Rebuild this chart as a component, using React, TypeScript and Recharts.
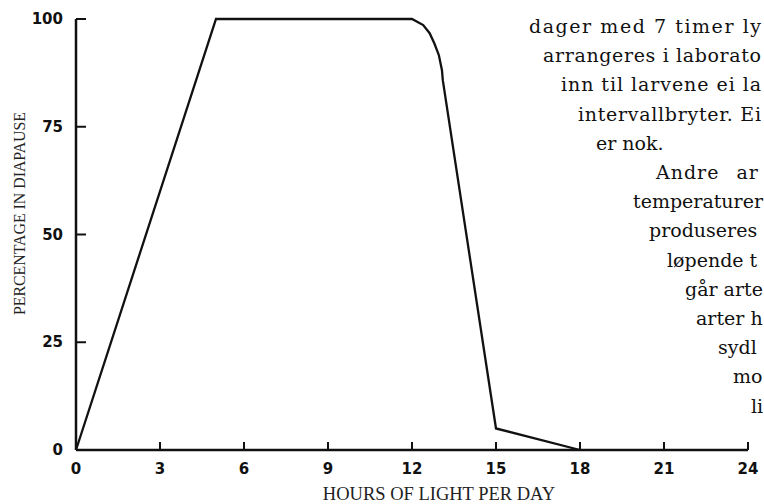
import { LineChart, Line, XAxis, YAxis } from 'recharts';

// hours of light per day vs. percentage in diapause
const hours = [0, 5, 12, 12.4, 12.63, 12.8, 12.96, 13.07, 13.1, 15, 18];
const diapause = [0, 100, 100, 98.6, 96.7, 94.3, 91.6, 88.1, 85.8, 5, 0];

const xTicks = [0, 3, 6, 9, 12, 15, 18, 21, 24];
const yTicks = [0, 25, 50, 75, 100];

const xTitle = 'HOURS OF LIGHT PER DAY';
const yTitle = 'PERCENTAGE IN DIAPAUSE';

// running page text that wraps around the figure (only the visible part)
const pageLines = [
  'dager med 7 timer ly',
  'arrangeres i laborato',
  'inn til larvene ei la',
  'intervallbryter. Ei',
  'er nok.',
  'Andre ar',
  'temperaturer',
  'produseres',
  'løpende t',
  'går arte',
  'arter h',
  'sydl',
  'mo',
  'li',
];
const pageIndent = [529, 543, 561, 578, 596, 656, 633, 649, 667, 685, 696, 718, 733, 751];

const chartData = hours.map((h, i) => ({ h, p: diapause[i] }));

const tickFont = {
  fontFamily: '"DejaVu Sans", sans-serif',
  fontWeight: 700,
  fontSize: 15,
  fill: '#111',
};

function XTick({ x, y, payload }: any) {
  return (
    <g>
      {payload.value !== 0 && (
        <line x1={x} x2={x} y1={y} y2={y - 8} stroke="#111" strokeWidth={2} />
      )}
      <text x={x} y={y + 24} textAnchor="middle" {...tickFont}>
        {payload.value}
      </text>
    </g>
  );
}

function YTick({ x, y, payload }: any) {
  return (
    <g>
      {payload.value !== 0 && (
        <line x1={x} x2={x + 10} y1={y} y2={y} stroke="#111" strokeWidth={2} />
      )}
      <text x={x - 13} y={y + 5} textAnchor="end" {...tickFont}>
        {payload.value}
      </text>
    </g>
  );
}

export default function App() {
  return (
    <div style={{ position: 'fixed', left: 0, top: 0, width: 764, height: 504, overflow: 'hidden', background: '#fff' }}>
      <LineChart
        width={764}
        height={504}
        data={chartData}
        margin={{ top: 19, right: 16, left: 16, bottom: 0 }}
      >
        <XAxis
          dataKey="h"
          type="number"
          domain={[0, 24]}
          ticks={xTicks}
          height={54}
          tickSize={0}
          tickMargin={0}
          tickLine={false}
          axisLine={{ stroke: '#111', strokeWidth: 2.5 }}
          tick={<XTick />}
          interval={0}
        />
        <YAxis
          type="number"
          domain={[0, 100]}
          ticks={yTicks}
          width={60}
          tickSize={0}
          tickMargin={0}
          tickLine={false}
          axisLine={{ stroke: '#111', strokeWidth: 2.5 }}
          tick={<YTick />}
          interval={0}
        />
        <Line
          dataKey="p"
          type="linear"
          stroke="#111"
          strokeWidth={2.3}
          dot={false}
          isAnimationActive={false}
        />
      </LineChart>
      <svg
        width={764}
        height={504}
        style={{ position: 'absolute', left: 0, top: 0, pointerEvents: 'none' }}
      >
        <text
          x={439}
          y={500}
          textAnchor="middle"
          fontFamily='"Liberation Serif", serif'
          fontSize={18.5}
          fill="#222"
        >
          {xTitle}
        </text>
        <text
          transform="translate(24.5, 213.5) rotate(-90)"
          textAnchor="middle"
          fontFamily='"Liberation Serif", serif'
          fontSize={17.5}
          textLength={203}
          lengthAdjust="spacingAndGlyphs"
          fill="#222"
        >
          {yTitle}
        </text>
        {pageLines.map((line, i) => (
          <text
            key={i}
            x={pageIndent[i]}
            y={33 + i * 29.2}
            fontFamily='"DejaVu Serif", serif'
            fontSize={19}
            letterSpacing={i === 5 ? 1 : 0}
            wordSpacing={i === 5 ? 10 : 0}
            textLength={i < 4 ? 761 - pageIndent[i] : undefined}
            lengthAdjust="spacing"
            fill="#111"
          >
            {line}
          </text>
        ))}
      </svg>
    </div>
  );
}
